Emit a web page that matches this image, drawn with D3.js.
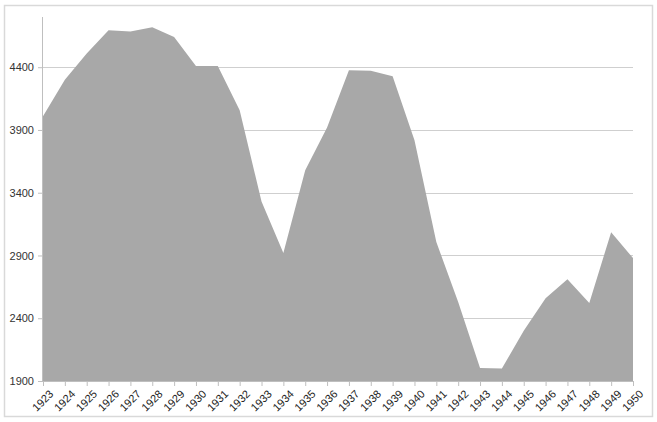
<!DOCTYPE html>
<html><head><meta charset="utf-8">
<script src="https://cdn.jsdelivr.net/npm/d3@7"></script>
<style>body{margin:0;background:#fff;}svg{display:block;font-family:"Liberation Sans",Arial,sans-serif;}</style>
</head><body>
<script>
const years = [1923,1924,1925,1926,1927,1928,1929,1930,1931,1932,1933,1934,1935,1936,1937,1938,1939,1940,1941,1942,1943,1944,1945,1946,1947,1948,1949,1950];
const values = [4010,4300,4510,4695,4685,4718,4640,4410,4410,4058,3330,2920,3580,3920,4376,4372,4328,3819,3007,2530,2004,2000,2300,2560,2710,2521,3086,2879];
const yTicks = [1900,2400,2900,3400,3900,4400];

const W = 657, H = 422;
const m = {left:43, right:24, top:17, bottom:41};
const svg = d3.select("body").append("svg").attr("width", W).attr("height", H);

svg.append("rect").attr("x",4.5).attr("y",5.5).attr("width",648).attr("height",411)
  .attr("fill","#fff").attr("stroke","#d9d9d9").attr("stroke-width",1.5);

const x = d3.scalePoint().domain(years).range([m.left, W - m.right]);
const y = d3.scaleLinear().domain([1900, 4800]).range([H - m.bottom, m.top]);

// gridlines
svg.append("g").selectAll("line").data(yTicks.slice(1)).join("line")
  .attr("x1", m.left).attr("x2", W - m.right)
  .attr("y1", d => Math.round(y(d)) + 0.5).attr("y2", d => Math.round(y(d)) + 0.5)
  .attr("stroke", "#cfcfcf").attr("stroke-width", 1.2);

// area
const data = years.map((yr, i) => ({yr, v: values[i]}));
svg.append("path").datum(data)
  .attr("fill", "#a8a8a8")
  .attr("d", d3.area().x(d => x(d.yr)).y0(y(1900)).y1(d => y(d.v)));

// y axis
const ya = svg.append("g").attr("transform", `translate(${m.left},0)`)
  .call(d3.axisLeft(y).tickValues(yTicks).tickSize(5).tickPadding(4).tickFormat(d3.format("d")));
ya.select(".domain").attr("stroke", "#bfbfbf").attr("d", `M-0.5,${y(1900)}V${m.top}`);
ya.selectAll(".tick line").attr("stroke", "#bfbfbf");
ya.selectAll(".tick text").attr("fill", "#333").style("font-size", "11px");

// x axis
const xa = svg.append("g").attr("transform", `translate(0,${y(1900)})`)
  .call(d3.axisBottom(x).tickSize(5).tickPadding(2));
xa.select(".domain").attr("stroke", "#bfbfbf");
xa.selectAll(".tick line").attr("stroke", "#bfbfbf");
xa.selectAll(".tick text").attr("fill", "#222").style("font-size", "11px")
  .attr("text-anchor", "end").attr("dy", "0.35em")
  .attr("transform", "translate(3,6) rotate(-45)");
</script>
</body></html>
